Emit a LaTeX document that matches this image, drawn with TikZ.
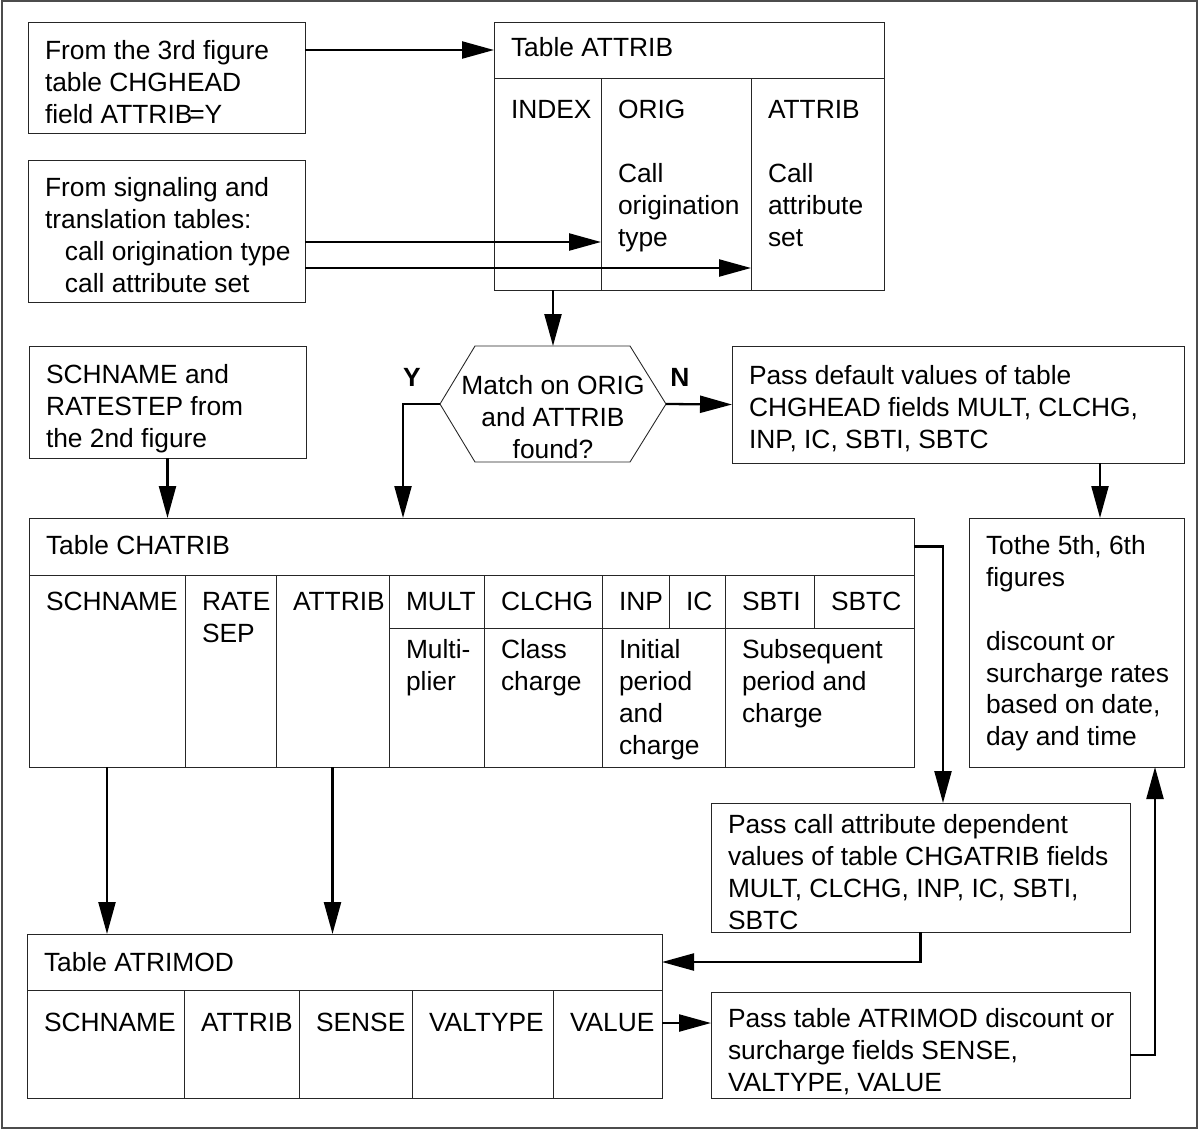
\documentclass[tikz,border=0pt]{standalone}
\usepackage{fontspec}
\setmainfont{Liberation Sans}
\usepackage{tikz}
\usetikzlibrary{arrows.meta,positioning}

\newlength\pxu
\setlength\pxu{0.02cm}
\newcommand\tcell[4][17]{\parbox[t][#3\pxu][t]{#2\pxu}{\raggedright\leftskip=17\pxu\vskip#1\pxu\relax #4}}

\begin{document}
\begin{tikzpicture}[x=0.02cm,y=-0.02cm,->,>={Triangle[length=0.64cm,width=0.34cm]},line width=1.3pt,font=\fontsize{15}{18.2}\selectfont]
\tikzstyle{cellbox}=[draw=black!85,line width=0.5pt,anchor=north west,inner sep=0pt,outer sep=0pt]
\tikzstyle{flag}=[font=\fontsize{15}{18.2}\selectfont\bfseries]
\useasboundingbox (0,0) rectangle (1200,1130);
\draw[-,line width=0.6pt,black!70] (2,1) rectangle (1197,1128);

\node[cellbox] (from3) at (28,22) {\tcell[18]{277}{111}{From the 3rd figure\\table CHGHEAD\\field ATTRIB\kern-.12em=Y}};
\node[cellbox] (sig) at (28,160) {\tcell{277}{142}{From signaling and\\translation tables:\\\hspace*{0.4cm}call origination type\\\hspace*{0.4cm}call attribute set}};

\node[cellbox] (attrhead) at (494,22) {\tcell[15]{390}{56}{Table ATTRIB}};
\node[cellbox,below=0pt of attrhead.south west,anchor=north west] (index) {\tcell[22]{107}{212}{INDEX}};
\node[cellbox,right=0pt of index] (orig) {\tcell[22]{150}{212}{ORIG\\[18.2pt]Call\\origination\\type}};
\node[cellbox,right=0pt of orig] (attcol) {\tcell[22]{133}{212}{ATTRIB\\[18.2pt]Call\\attribute\\set}};

\node[cellbox] (schbox) at (29,346) {\tcell[18]{277}{112}{SCHNAME and\\RATESTEP from\\the 2nd figure}};
\node[inner sep=0pt,outer sep=0pt] (match) at (553,404) {\parbox[t][116\pxu][t]{226\pxu}{\centering\vskip29\pxu Match on ORIG\\and ATTRIB\\found?}};
\draw[-,line width=0.5pt,black!85] (match.west) -- ([xshift=0.7cm]match.north west) -- ([xshift=-0.72cm]match.north east)
  -- (match.east) -- ([xshift=-0.72cm]match.south east) -- ([xshift=0.7cm]match.south west) -- cycle;
\node[flag] (ylab) at ([xshift=-0.56cm,yshift=0.54cm]match.west) {Y};
\node[flag] (nlab) at ([xshift=0.28cm,yshift=0.54cm]match.east) {N};
\node[cellbox] (default) at (732,346) {\tcell[19]{452}{117}{Pass default values of table\\CHGHEAD fields MULT, CLCHG,\\INP, IC, SBTI, SBTC}};

\node[cellbox] (chahead) at (29,518) {\tcell{885}{57}{Table CHATRIB}};
\node[cellbox,below=0pt of chahead.south west,anchor=north west] (chsch) {\tcell{156}{192}{SCHNAME}};
\node[cellbox,right=0pt of chsch] (rate) {\tcell{91}{192}{RATE\\SEP}};
\node[cellbox,right=0pt of rate] (chatt) {\tcell{113}{192}{ATTRIB}};
\node[cellbox,right=0pt of chatt.north east,anchor=north west] (mult) {\tcell{95}{53}{MULT}};
\node[cellbox,below=0pt of mult] (multip) {\tcell[11]{95}{139}{Multi-\\plier}};
\node[cellbox,right=0pt of mult] (clchg) {\tcell{118}{53}{CLCHG}};
\node[cellbox,below=0pt of clchg] (classch) {\tcell[11]{118}{139}{Class\\charge}};
\node[cellbox,right=0pt of clchg] (inp) {\tcell{67}{53}{INP}};
\node[cellbox,right=0pt of inp] (ic) {\tcell{56}{53}{IC}};
\node[cellbox,below=0pt of inp.south west,anchor=north west] (initial) {\tcell[11]{123}{139}{Initial\\period\\and\\charge}};
\node[cellbox,right=0pt of ic] (sbti) {\tcell{89}{53}{SBTI}};
\node[cellbox,right=0pt of sbti] (sbtc) {\tcell{100}{53}{SBTC}};
\node[cellbox,below=0pt of sbti.south west,anchor=north west] (subseq) {\tcell[11]{189}{139}{Subsequent\\period and\\charge}};

\node[cellbox] (tothe) at (969,518) {\tcell{215}{249}{Tothe 5th, 6th\\figures\\[18.2pt]discount or\\surcharge rates\\based on date,\\day and time}};
\node[cellbox] (passcall) at (711,803) {\tcell[11]{419}{129}{Pass call attribute dependent\\values of table CHGATRIB fields\\MULT, CLCHG, INP, IC, SBTI,\\SBTC}};

\node[cellbox] (atrhead) at (27,934) {\tcell[18]{635}{56}{Table ATRIMOD}};
\node[cellbox,below=0pt of atrhead.south west,anchor=north west] (asch) {\tcell[23]{157}{108}{SCHNAME}};
\node[cellbox,right=0pt of asch] (aatt) {\tcell[23]{115}{108}{ATTRIB}};
\node[cellbox,right=0pt of aatt] (sense) {\tcell[23]{113}{108}{SENSE}};
\node[cellbox,right=0pt of sense] (valtype) {\tcell[23]{141}{108}{VALTYPE}};
\node[cellbox,right=0pt of valtype] (value) {\tcell[23]{109}{108}{VALUE}};
\node[cellbox] (passtab) at (711,992) {\tcell[16]{419}{106}{Pass table ATRIMOD discount or\\surcharge fields SENSE,\\VALTYPE, VALUE}};

\coordinate (s1) at ([yshift=-0.22cm]sig.east);
\coordinate (s2) at ([yshift=-0.74cm]sig.east);
\coordinate (ybend) at ([xshift=-0.74cm]match.west);
\coordinate (dn) at ([xshift=0.47cm]tothe.north);
\coordinate (cturn) at ([xshift=0.58cm]chahead.east);
\coordinate (vout) at ([yshift=0.42cm]value.east);
\coordinate (pout) at ([yshift=-0.2cm]passtab.east);
\coordinate (pup) at ([xshift=0.5cm]pout);

\draw (from3.east |- attrhead.west) -- (attrhead.west);
\draw (s1) -- (s1 -| orig.west);
\draw (s2) -- (s2 -| attcol.west);
\draw (index.south -| match.north) -- (match.north);
\draw (match.west) -- (ybend) -- (ybend |- chahead.north);
\draw (match.east) -- (default.west);
\draw (dn |- default.south) -- (dn);
\draw (schbox.south) -- (schbox.south |- chahead.north);
\draw (chahead.east) -- (cturn) -- (cturn |- passcall.north);
\draw (passcall.south) |- (atrhead.east);
\draw (chsch.south) -- (chsch.south |- atrhead.north);
\draw (chatt.south) -- (chatt.south |- atrhead.north);
\draw (vout) -- (vout -| passtab.west);
\draw (pout) -- (pup) -- (pup |- tothe.south);
\end{tikzpicture}
\end{document}
